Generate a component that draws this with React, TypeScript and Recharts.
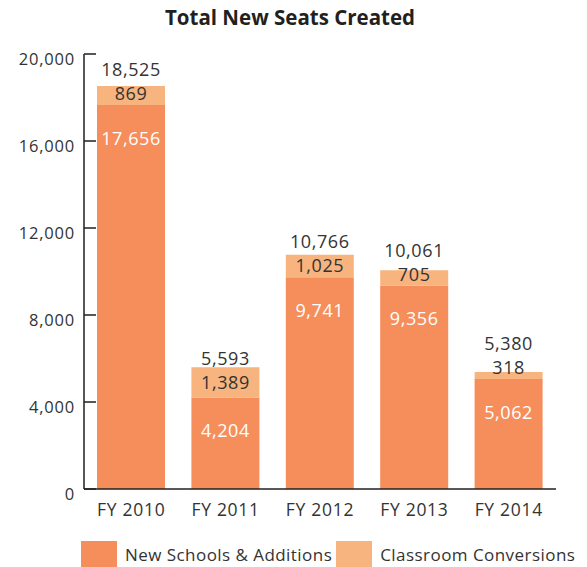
import React from 'react';
import { BarChart, Bar, XAxis, YAxis, LabelList } from 'recharts';

const categories = ['FY 2010', 'FY 2011', 'FY 2012', 'FY 2013', 'FY 2014'];
const newSchools = [17656, 4204, 9741, 9356, 5062];
const conversions = [869, 1389, 1025, 705, 318];
const totals = [18525, 5593, 10766, 10061, 5380];
const yTicks = [0, 4000, 8000, 12000, 16000, 20000];
const seriesNames = ['New Schools & Additions', 'Classroom Conversions'];
const title = 'Total New Seats Created';

const DARK = '#F58E5B';
const LIGHT = '#F7B47E';
const TEXT = '#333333';
const AXIS = '#231F20';
const FONT = '"Open Sans", "Noto Sans", sans-serif';

const data = categories.map((c, i) => ({
  name: c,
  newSchools: newSchools[i],
  conversions: conversions[i],
  total: totals[i],
}));

const fmt = (v: any) => Number(v).toLocaleString('en-US');

const YTick = (props: any) => {
  const { x, y, payload } = props;
  const ax = x + 9;
  return (
    <g>
      <line x1={ax} x2={ax + 12} y1={y} y2={y} stroke={AXIS} strokeWidth={1.5} />
      <text
        x={x}
        y={y + 5.5}
        dy="0.355em"
        textAnchor="end"
        fill={TEXT}
        fontSize={16.5}
        fontFamily={FONT}
        letterSpacing={0.8}
      >
        {fmt(payload.value)}
      </text>
    </g>
  );
};

const LABEL_SIZE = 18;

// y of the conversion label: segment centre, but kept a little above the dark segment
const convLabelY = (vb: any) => {
  const top = vb.y;
  const h = vb.height;
  return Math.min(top + h / 2, top + h - 11);
};

const ConvLabel = (props: any) => {
  const { viewBox, value } = props;
  if (!viewBox) return null;
  const cy = convLabelY(viewBox);
  return (
    <text
      x={viewBox.x + viewBox.width / 2}
      y={cy}
      dy="0.355em"
      textAnchor="middle"
      fill={TEXT}
      fontSize={LABEL_SIZE}
      fontFamily={FONT}
      letterSpacing={0.6}
    >
      {fmt(value)}
    </text>
  );
};

const TotalLabel = (props: any) => {
  const { viewBox, value } = props;
  if (!viewBox) return null;
  const cy = convLabelY(viewBox) - 24;
  return (
    <text
      x={viewBox.x + viewBox.width / 2}
      y={cy}
      dy="0.355em"
      textAnchor="middle"
      fill={TEXT}
      fontSize={LABEL_SIZE}
      fontFamily={FONT}
      letterSpacing={0.6}
    >
      {fmt(value)}
    </text>
  );
};

const labelStyle = { fontFamily: FONT, fontSize: LABEL_SIZE, letterSpacing: 0.6 } as any;

export default function App() {
  return (
    <div style={{ position: 'absolute', left: 0, top: 0, width: 587, height: 567, background: '#fff' }}>
      <div
        style={{
          position: 'absolute',
          left: 0,
          width: 580,
          top: 3,
          textAlign: 'center',
          fontFamily: FONT,
          fontWeight: 700,
          fontSize: 20.5,
          lineHeight: '28px',
          color: '#231F20',
        }}
      >
        {title}
      </div>
      <BarChart
        width={587}
        height={567}
        data={data}
        margin={{ top: 54, right: 31, left: 0, bottom: 48 }}
        barSize={68}
      >
        <XAxis
          dataKey="name"
          tickLine={false}
          tickMargin={9}
          axisLine={{ stroke: AXIS, strokeWidth: 1.5 }}
          height={30}
          tick={{ fill: TEXT, fontSize: 17.5, fontFamily: FONT, letterSpacing: 0.7 } as any}
        />
        <YAxis
          width={84}
          domain={[0, 20000]}
          ticks={yTicks}
          interval={0}
          tickSize={0}
          tickMargin={9}
          tickLine={false}
          axisLine={{ stroke: AXIS, strokeWidth: 1.5 }}
          tick={<YTick />}
        />
        <Bar dataKey="newSchools" stackId="a" fill={DARK} isAnimationActive={false}>
          <LabelList
            dataKey="newSchools"
            position="insideTop"
            offset={27}
            fill="#FFFFFF"
            formatter={fmt}
            style={labelStyle}
          />
        </Bar>
        <Bar dataKey="conversions" stackId="a" fill={LIGHT} isAnimationActive={false}>
          <LabelList dataKey="conversions" content={<ConvLabel />} />
          <LabelList dataKey="total" content={<TotalLabel />} />
        </Bar>
      </BarChart>
      <div
        style={{
          position: 'absolute',
          left: 81,
          top: 541,
          display: 'flex',
          alignItems: 'center',
          fontFamily: FONT,
          fontSize: 17,
          letterSpacing: 0.45,
          color: TEXT,
        }}
      >
        {seriesNames.map((n, i) => (
          <div key={n} style={{ display: 'flex', alignItems: 'center', marginRight: 4 }}>
            <div style={{ width: 36, height: 26, background: i === 0 ? DARK : LIGHT, marginRight: 8 }} />
            <span style={{ whiteSpace: 'nowrap' }}>{n}</span>
          </div>
        ))}
      </div>
    </div>
  );
}
